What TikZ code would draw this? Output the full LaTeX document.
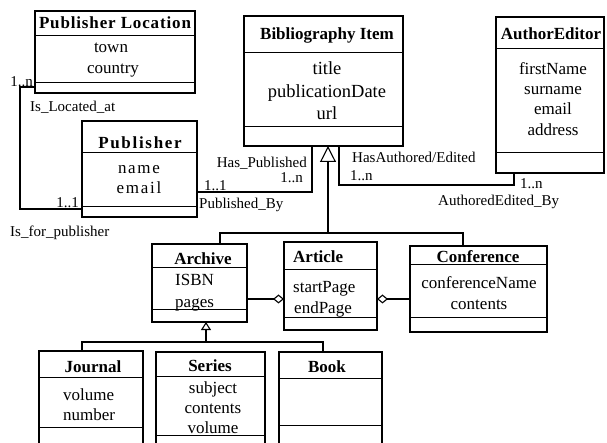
\documentclass[tikz,border=0pt]{standalone}
\usepackage{fontspec}
\setmainfont{Liberation Serif}
\usetikzlibrary{arrows.meta,fit}
\tikzset{
  clsbox/.style={draw, line width=1.5pt, inner sep=0pt, outer sep=0pt},
  sepline/.style={line width=0.9pt},
  conn/.style={line width=1.1pt},
  ttl/.style={font=\fontsize{17}{20}\selectfont\bfseries, inner sep=0pt, text height=12pt, text depth=4pt, yshift=-3pt},
  attr/.style={font=\fontsize{17}{20}\selectfont, inner sep=0pt, text height=12pt, text depth=4pt, yshift=-3pt},
  attrbig/.style={attr, font=\fontsize{18.5}{21}\selectfont},
  lbl/.style={font=\fontsize{15}{17}\selectfont, inner sep=0pt, text height=10pt, text depth=3pt, yshift=-2.5pt},
  gen/.style={-{Triangle[open,length=16pt,width=16pt]}},
  gensmall/.style={-{Triangle[open,length=8pt,width=10pt]}},
  aggend/.style={-{Diamond[open,length=11pt,width=9pt]}},
  aggstart/.style={{Diamond[open,length=11pt,width=9pt]}-},
}
\newcommand\UmlBox[7]{%
  \node[clsbox, fit={(#2,#3) (#4,#5)}] (#1) {};
  \draw[sepline] (#2,#6) -- (#4,#6) (#2,#7) -- (#4,#7);}
\begin{document}
\begin{tikzpicture}[x=1pt,y=-1pt]
\useasboundingbox (0,0) rectangle (607,443);
\clip (0,0) rectangle (607,443);
% boxes
\UmlBox{pl}{35}{11}{195}{93}{35}{82}
\UmlBox{pub}{82}{121}{197}{217}{152}{206}
\UmlBox{bib}{244}{16}{403}{146}{52}{126}
\UmlBox{ae}{496}{17}{604}{173}{48}{152}
\UmlBox{arch}{152}{244}{247}{322}{267}{309}
\UmlBox{art}{284}{242}{377}{330}{269}{317}
\UmlBox{conf}{410}{246}{547}{332}{264}{317}
\UmlBox{jour}{39}{351}{143}{460}{377}{427}
\UmlBox{ser}{156}{352}{265}{460}{376}{435}
\UmlBox{book}{279}{352}{382}{460}{378}{425}
% texts
\node[ttl] (plT) at (115,22) {\addfontfeature{LetterSpace=5}Publisher Location};
\node[attr] (plA1) at (111,46) {town};
\node[attr] (plA2) at (113,67) {country};
\node[ttl] (pubT) at (140,142) {\addfontfeature{LetterSpace=10}Publisher};
\node[attr] (pubA1) at (139,167) {\addfontfeature{LetterSpace=10}name};
\node[attr] (pubA2) at (139,187) {\addfontfeature{LetterSpace=10}email};
\node[ttl] (bibT) at (327,33) {Bibliography Item};
\node[attrbig] (bibA1) at (327,68) {title};
\node[attrbig] (bibA2) at (327,91) {publicationDate};
\node[attrbig] (bibA3) at (327,113) {url};
\node[ttl] (aeT) at (551,33) {AuthorEditor};
\node[attr] (aeA1) at (553,68) {firstName};
\node[attr] (aeA2) at (553,88) {surname};
\node[attr] (aeA3) at (553,108) {email};
\node[attr] (aeA4) at (553,129) {address};
\node[ttl] (archT) at (203,258) {Archive};
\node[attr, anchor=west] (archA1) at (175,279) {ISBN};
\node[attr, anchor=west] (archA2) at (175,300) {pages};
\node[ttl, anchor=west] (artT) at (293,256) {Article};
\node[attr, anchor=west] (artA1) at (293,286) {startPage};
\node[attr, anchor=west] (artA2) at (294,306) {endPage};
\node[ttl] (confT) at (478,256) {Conference};
\node[attr] (confA1) at (479,282) {conferenceName};
\node[attr] (confA2) at (479,302) {contents};
\node[ttl] (jourT) at (93,365) {Journal};
\node[attr, anchor=west] (jourA1) at (63,393) {volume};
\node[attr, anchor=west] (jourA2) at (63,413) {number};
\node[ttl] (serT) at (210,364) {Series};
\node[attr] (serA1) at (213,386) {subject};
\node[attr] (serA2) at (213,406) {contents};
\node[attr] (serA3) at (213,426) {volume};
\node[ttl] (bookT) at (327,365) {Book};
% labels
\node[lbl, anchor=east] (l1) at (33,81) {1..n};
\node[lbl, anchor=west] (l2) at (30,106) {Is\_Located\_at};
\node[lbl, anchor=east] (l3) at (79,202) {1..1};
\node[lbl, anchor=west] (l4) at (10,231) {Is\_for\_publisher};
\node[lbl, anchor=east] (l5) at (307,162) {Has\_Published};
\node[lbl, anchor=east] (l6) at (303,177) {1..n};
\node[lbl, anchor=west] (l7) at (204,185) {1..1};
\node[lbl, anchor=west] (l8) at (199,203) {Published\_By};
\node[lbl, anchor=west] (l9) at (352,157) {HasAuthored/Edited};
\node[lbl, anchor=west] (l10) at (350,175) {1..n};
\node[lbl, anchor=west] (l11) at (520,183) {1..n};
\node[lbl, anchor=west] (l12) at (438,200) {AuthoredEdited\_By};
% connectors
\draw[conn] ([yshift=6pt]pl.south west) -| (20,209) -- ([yshift=8pt]pub.south west);
\draw[conn] ([xshift=68pt]bib.south west) |- ([yshift=25pt]pub.south east);
\draw[conn] ([xshift=95pt]bib.south west) -- ++(0,39) -| ([xshift=18pt]ae.south west);
\coordinate (g1) at (328,233);
\draw[conn] ([xshift=20.5pt]arch.north) |- (g1) -| ([xshift=-15.5pt]conf.north);
\draw[conn, gen] (g1) -- ([xshift=4.5pt]bib.south);
\path ([yshift=-16pt]arch.east) coordinate (ag1);
\draw[conn, aggend] (ag1) -- (art.west |- ag1);
\path ([yshift=-10pt]conf.west) coordinate (ag2);
\draw[conn, aggstart] (art.east |- ag2) -- (ag2);
\coordinate (g2) at (206,342);
\draw[conn] ([xshift=-9pt]jour.north) |- (g2) -| ([xshift=-7.5pt]book.north);
\draw[conn, gensmall] (g2) -- ([xshift=6.5pt]arch.south);
\end{tikzpicture}
\end{document}
